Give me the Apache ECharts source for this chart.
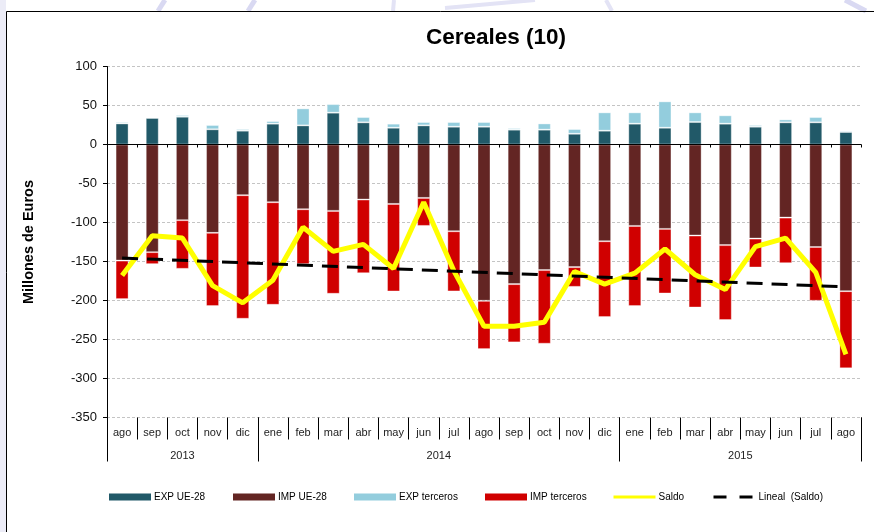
<!DOCTYPE html>
<html>
<head>
<meta charset="utf-8">
<script src="https://cdn.jsdelivr.net/npm/echarts@6/dist/echarts.min.js"></script>
<style>
  html, body { margin: 0; padding: 0; background: #ffffff; }
  #chart { width: 874px; height: 532px; }
</style>
</head>
<body>
<div id="chart"></div>
<script>
// Monthly cereal trade, millions of euros (Aug 2013 – Aug 2015)
const months = ['ago','sep','oct','nov','dic','ene','feb','mar','abr','may','jun','jul',
                'ago','sep','oct','nov','dic','ene','feb','mar','abr','may','jun','jul','ago'];
const years = ['2013', '2014', '2015'];
const monthsPerYear = [5, 12, 8];

const expUE       = [27, 34, 35.6, 19.5, 17.7, 26.7, 24.5, 40.8, 28.4, 21.5, 24.5, 22.8,
                     22.8, 19, 19, 13.8, 17.7, 26.7, 21.5, 28.8, 26.7, 22.8, 28.4, 28.4, 16];
const expTerceros = [1.8, 1.2, 2.2, 5.5, 2.1, 3.3, 21.8, 11, 6.8, 5.2, 4.3, 6,
                     6, 2, 8, 6, 23.5, 14.5, 33.8, 12.4, 10.7, 2.2, 3.8, 6.8, 1.7];
const impUE       = [-148.8, -138, -97, -113.3, -65, -74, -83, -85.1, -70.6, -76.2, -68.5, -111.2,
                     -200.4, -179, -161, -157.2, -124, -104.4, -108.2, -116.7, -129, -120.6, -93.7, -131.4, -188];
const impTerceros = [-49.4, -15.4, -62.4, -93.9, -158.4, -131.5, -70.4, -106.3, -94.4, -112.2, -35.9, -77.2,
                     -61.9, -74.7, -94.4, -25.3, -97.3, -102.8, -82.8, -92.3, -96, -37.1, -58.5, -69, -99];
const saldo       = [-168, -117, -120, -181, -203, -174, -106, -137, -128, -159, -74, -162,
                     -233, -233, -228, -163, -179, -165, -134, -167, -186, -131, -120, -164, -269];
// Linear trend of the balance, at the first and the last month
const saldoTrend  = [-145.5, -182.5];

const seriesNames = ['EXP UE-28', 'IMP UE-28', 'EXP terceros', 'IMP terceros', 'Saldo', 'Lineal  (Saldo)'];
const colors = ['#215968', '#632523', '#93CDDD', '#D00000', '#FFFF00', '#000000'];

const FONT = "'Liberation Sans', Arial, sans-serif";

// year separators and year label positions on a 0..N month scale
const yearEdges = [0];
monthsPerYear.forEach(n => yearEdges.push(yearEdges[yearEdges.length - 1] + n));
const yearCenters = years.map((y, i) => (yearEdges[i] + yearEdges[i + 1]) / 2);

const chart = echarts.init(document.getElementById('chart'), null, { renderer: 'canvas' });

const barBorder = { borderColor: 'rgba(255,255,255,0.35)', borderWidth: 1 };

function bar(name, data, color) {
  return {
    name, type: 'bar', stack: 'trade', data,
    xAxisIndex: 0, yAxisIndex: 0,
    barWidth: 13,
    itemStyle: Object.assign({ color }, barBorder),
    emphasis: { disabled: true }
  };
}

// one legend per entry so each sits at its own spot on the row
const legendLeft = [109, 233, 354, 485, 612, 712];
const legends = seriesNames.map((name, i) => {
  const lg = {
    data: [name],
    left: legendLeft[i],
    top: 492,
    padding: 0,
    itemWidth: 42,
    itemHeight: 7,
    textStyle: { fontFamily: FONT, fontSize: 10, color: '#000', padding: [0, 0, 0, -2] },
    selectedMode: false
  };
  if (i < 4) {
    lg.icon = 'rect';
    lg.itemStyle = { borderWidth: 0 };
  } else {
    lg.itemStyle = { opacity: 0 };
    lg.lineStyle = i === 5 ? { width: 3, type: [13, 13], color: '#000' } : { width: 3 };
  }
  return lg;
});

chart.setOption({
  animation: false,
  backgroundColor: '#ffffff',
  title: {
    text: 'Cereales (10)',
    left: 426,
    top: 26,
    padding: 0,
    textStyle: { fontFamily: FONT, fontSize: 22.5, fontWeight: 'bold', color: '#000' }
  },
  legend: legends,
  grid: { left: 107, right: 13, top: 66.5, bottom: 114.5, containLabel: false },
  xAxis: [
    { // month labels and month separators
      type: 'category', data: months, position: 'bottom',
      axisLine: { show: false, onZero: false },
      axisTick: { show: true, interval: 0, length: 22, lineStyle: { color: '#000', width: 1 } },
      axisLabel: { interval: 0, margin: 10, fontFamily: FONT, fontSize: 11, color: '#222' },
      splitLine: { show: false }
    },
    { // year labels and year separators
      type: 'value', position: 'bottom', min: 0, max: months.length,
      axisLine: { show: false, onZero: false },
      axisTick: { show: true, customValues: yearEdges, length: 44, lineStyle: { color: '#000', width: 1 } },
      axisLabel: {
        customValues: yearCenters, margin: 33,
        fontFamily: FONT, fontSize: 11, color: '#222',
        formatter: v => years[yearCenters.indexOf(v)]
      },
      splitLine: { show: false }
    },
    { // zero line with small ticks
      type: 'category', data: months, position: 'bottom', z: 5,
      axisLine: { show: true, onZero: true, lineStyle: { color: '#000', width: 1 } },
      axisTick: { show: true, interval: 0, length: 3, lineStyle: { color: '#000' } },
      axisLabel: { show: false },
      splitLine: { show: false }
    }
  ],
  yAxis: {
    type: 'value', min: -350, max: 100, interval: 50,
    name: 'Millones de Euros',
    nameLocation: 'middle', nameRotate: 90, nameGap: 71,
    nameTextStyle: { fontFamily: FONT, fontSize: 14.5, fontWeight: 'bold', color: '#000' },
    axisLine: { show: true, lineStyle: { color: '#000', width: 1 } },
    axisTick: { show: true, length: 4, lineStyle: { color: '#000' } },
    axisLabel: { margin: 10, fontFamily: FONT, fontSize: 13, color: '#111' },
    splitLine: { show: true, lineStyle: { color: '#c4c4c4', width: 1, type: [3, 2] } }
  },
  series: [
    bar(seriesNames[0], expUE, colors[0]),
    bar(seriesNames[1], impUE, colors[1]),
    bar(seriesNames[2], expTerceros, colors[2]),
    bar(seriesNames[3], impTerceros, colors[3]),
    {
      name: seriesNames[4], type: 'line', data: saldo,
      xAxisIndex: 0, yAxisIndex: 0, z: 4,
      symbol: 'none',
      lineStyle: { color: colors[4], width: 5 },
      itemStyle: { color: colors[4] },
      emphasis: { disabled: true }
    },
    {
      name: seriesNames[5], type: 'line',
      data: [[0, saldoTrend[0]], [months.length - 1, saldoTrend[1]]],
      xAxisIndex: 0, yAxisIndex: 0, z: 6,
      symbol: 'none',
      lineStyle: { color: colors[5], width: 3, type: [16, 9] },
      itemStyle: { color: colors[5] },
      emphasis: { disabled: true }
    }
  ],
  graphic: [
    { type: 'rect', z: -1, shape: { x: 0, y: 0, width: 6, height: 532 }, style: { fill: '#ececf7' } },
    { type: 'line', z: -1, shape: { x1: 165, y1: 0, x2: 158, y2: 11 }, style: { stroke: '#d9d9f2', lineWidth: 5 } },
    { type: 'line', z: -1, shape: { x1: 255, y1: 0, x2: 248, y2: 11 }, style: { stroke: '#d9d9f2', lineWidth: 5 } },
    { type: 'line', z: -1, shape: { x1: 394, y1: 0, x2: 393, y2: 11 }, style: { stroke: '#e3e3f5', lineWidth: 4 } },
    { type: 'line', z: -1, shape: { x1: 445, y1: 8, x2: 535, y2: 0 }, style: { stroke: '#e3e3f5', lineWidth: 4 } },
    { type: 'line', z: -1, shape: { x1: 606, y1: 0, x2: 612, y2: 11 }, style: { stroke: '#e3e3f5', lineWidth: 4 } },
    { type: 'line', z: -1, shape: { x1: 845, y1: 0, x2: 866, y2: 11 }, style: { stroke: '#d9d9f2', lineWidth: 5 } },
    { type: 'rect', z: 10, shape: { x: 6.5, y: 11.5, width: 900, height: 540 }, style: { fill: null, stroke: '#000', lineWidth: 1 } }
  ]
});
</script>
</body>
</html>
